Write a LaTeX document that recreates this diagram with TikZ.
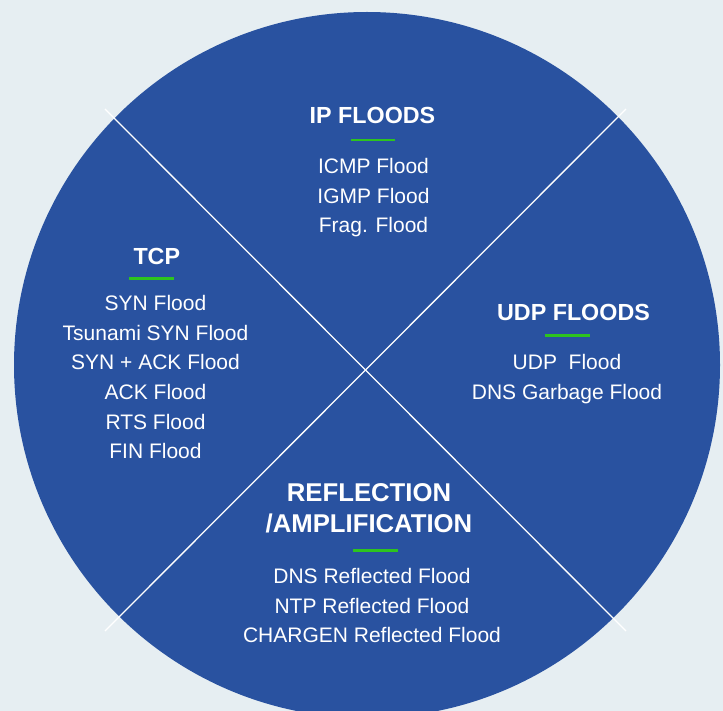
\documentclass[tikz,border=0pt]{standalone}
\usepackage{fontspec}
\setmainfont{Liberation Sans}
\begin{document}
\definecolor{bgpale}{HTML}{E6EEF2}
\definecolor{discblue}{HTML}{2952A0}
\definecolor{accentgreen}{HTML}{2DC41E}
\begin{tikzpicture}[x=1pt,y=-1pt,
  heading/.style={anchor=base,inner sep=0pt,text=white,font=\fontsize{23.3}{28}\selectfont\bfseries},
  bigheading/.style={heading,font=\fontsize{25.7}{30}\selectfont\bfseries},
  item/.style={anchor=base,inner sep=0pt,text=white,font=\fontsize{21}{25}\selectfont},
  underline/.style={draw=accentgreen,line width=2.6pt},
  divider/.style={draw=white,line width=1.3pt}]
  % canvas
  \useasboundingbox (0,0) rectangle (723,711);
  \clip (0,0) rectangle (723,711);
  \fill[bgpale] (0,0) rectangle (723,711);
  % the disc
  \fill[discblue] (367,365) circle[radius=353];
  % the two diagonals splitting the disc into quadrants
  \coordinate (d1a) at (105,109);
  \coordinate (d1b) at (626,631);
  \coordinate (d2a) at (626,109);
  \coordinate (d2b) at (105,631);
  \draw[divider] (d1a) -- (d1b);
  \draw[divider] (d2a) -- (d2b);

  % top quadrant: IP floods
  \node[heading] (iphead) at (372.5,123.3) {IP FLOODS};
  \coordinate (ipulA) at (351,140);
  \coordinate (ipulB) at (395,140);
  \draw[underline] (ipulA) -- (ipulB);
  \node[item] (ip1) at (373.5,174) {ICMP Flood};
  \node[item] (ip2) at (373.5,203.5) {IGMP Flood};
  \node[item] (ip3) at (373.5,233) {Frag. Flood};

  % left quadrant: TCP
  \node[heading] (tcphead) at (156.8,265) {TCP};
  \coordinate (tcpulA) at (129,278.5);
  \coordinate (tcpulB) at (174,278.5);
  \draw[underline] (tcpulA) -- (tcpulB);
  \node[item] (tcp1) at (155.5,311) {SYN Flood};
  \node[item] (tcp2) at (155.5,340.5) {Tsunami SYN Flood};
  \node[item] (tcp3) at (155.5,370) {SYN + ACK Flood};
  \node[item] (tcp4) at (155.5,399.5) {ACK Flood};
  \node[item] (tcp5) at (155.5,429) {RTS Flood};
  \node[item] (tcp6) at (155.5,458.5) {FIN Flood};

  % right quadrant: UDP floods
  \node[heading] (udphead) at (573.5,320) {UDP FLOODS};
  \coordinate (udpulA) at (545,335.5);
  \coordinate (udpulB) at (590,335.5);
  \draw[underline] (udpulA) -- (udpulB);
  \node[item] (udp1) at (567,370) {UDP\ \ Flood};
  \node[item] (udp2) at (567,399.5) {DNS Garbage Flood};

  % bottom quadrant: reflection / amplification
  \node[bigheading] (refhead1) at (369,501) {REFLECTION};
  \node[bigheading] (refhead2) at (369,532.5) {/AMPLIFICATION};
  \coordinate (refulA) at (353,550.3);
  \coordinate (refulB) at (398,550.3);
  \draw[underline] (refulA) -- (refulB);
  \node[item] (ref1) at (372,583.5) {DNS Reflected Flood};
  \node[item] (ref2) at (372,613) {NTP Reflected Flood};
  \node[item] (ref3) at (372,642) {CHARGEN Reflected Flood};
\end{tikzpicture}
\end{document}
